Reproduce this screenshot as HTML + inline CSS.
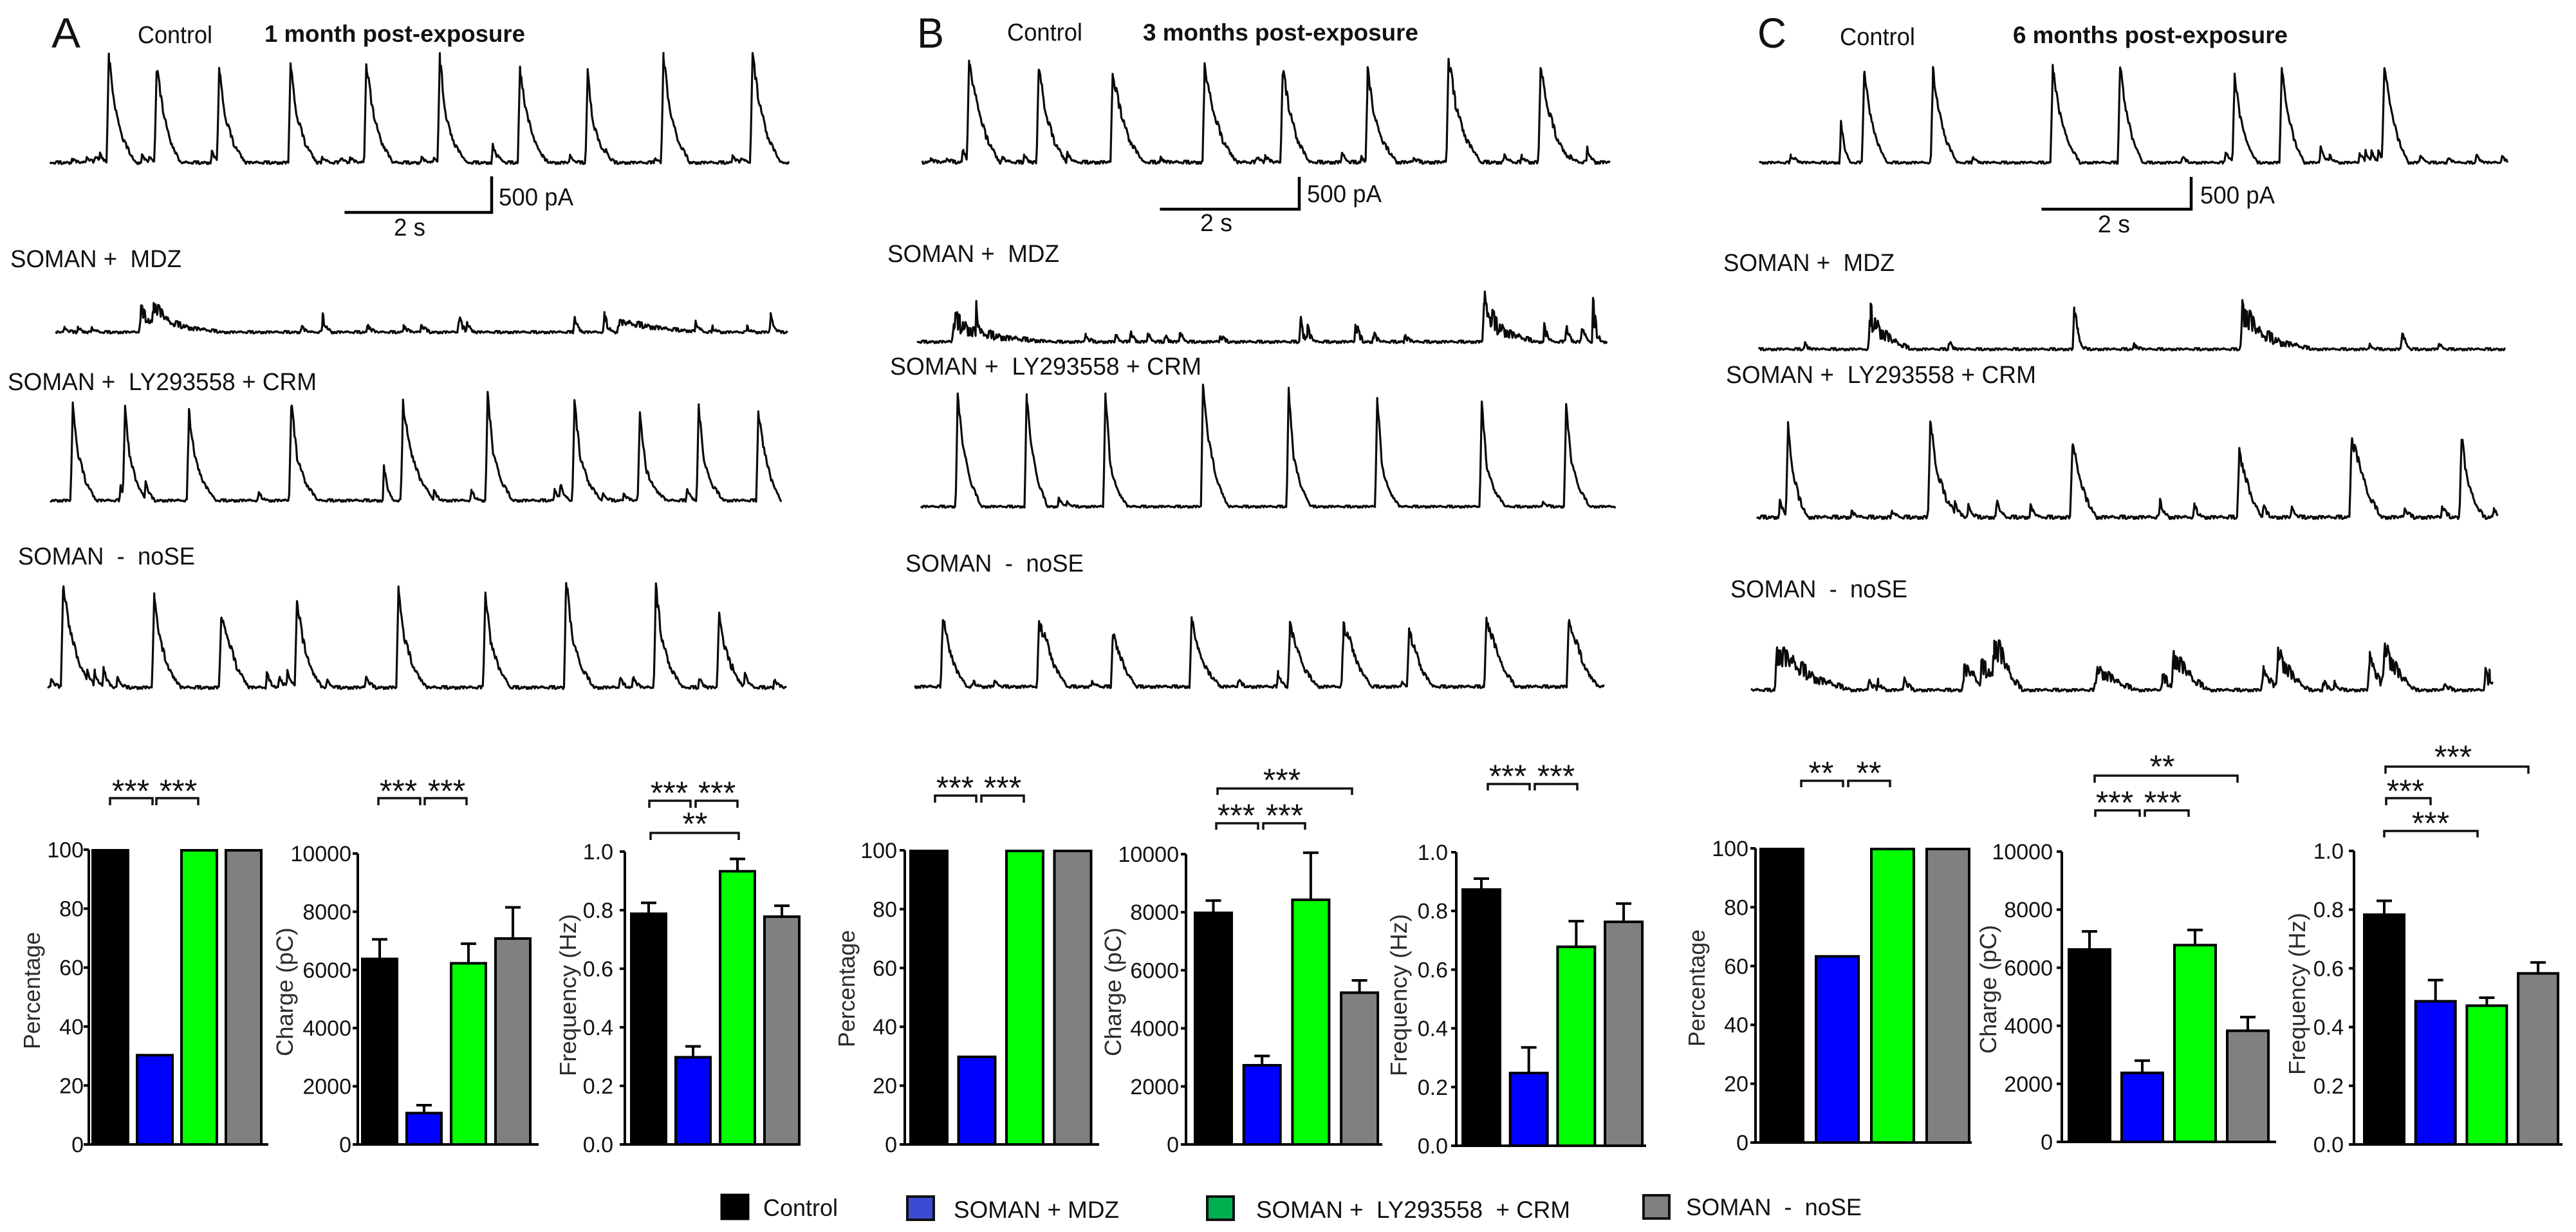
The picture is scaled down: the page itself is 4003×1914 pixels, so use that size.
<!DOCTYPE html>
<html lang="en">
<head>
<meta charset="utf-8">
<title>SOMAN electrophysiology figure</title>
<style>
html,body{margin:0;padding:0;background:#fff;width:4003px;height:1914px;overflow:hidden}
svg{display:block}
text{font-family:"Liberation Sans",Arial,sans-serif;fill:#111}
.lab{font-size:38px}
.ttl{font-size:37px;font-weight:bold}
.let{font-size:66px}
.leg{font-size:37px}
.axt{font-size:36px;fill:#2b2b2b}
</style>
</head>
<body>
<svg id="fig" xmlns="http://www.w3.org/2000/svg" width="4003" height="1914" viewBox="0 0 4003 1914">
<rect width="4003" height="1914" fill="#fff"/>

<g>
<text class="let" x="80" y="74" textLength="45" lengthAdjust="spacingAndGlyphs">A</text>
<text class="lab" x="214" y="67" textLength="116" lengthAdjust="spacingAndGlyphs">Control</text>
<text class="ttl" x="411" y="65" textLength="405" lengthAdjust="spacingAndGlyphs">1 month post-exposure</text>
<text class="lab" x="775" y="319" textLength="116" lengthAdjust="spacingAndGlyphs">500 pA</text>
<text class="lab" x="612" y="366" textLength="49" lengthAdjust="spacingAndGlyphs">2 s</text>
<text class="lab" x="16" y="415" textLength="266" lengthAdjust="spacingAndGlyphs" xml:space="preserve">SOMAN +  MDZ</text>
<text class="lab" x="12" y="606" textLength="480" lengthAdjust="spacingAndGlyphs" xml:space="preserve">SOMAN +  LY293558 + CRM</text>
<text class="lab" x="28" y="877" textLength="275" lengthAdjust="spacingAndGlyphs" xml:space="preserve">SOMAN  -  noSE</text>
</g>

<g>
<text class="let" x="1425" y="74" textLength="42" lengthAdjust="spacingAndGlyphs">B</text>
<text class="lab" x="1565" y="63" textLength="117" lengthAdjust="spacingAndGlyphs">Control</text>
<text class="ttl" x="1776" y="63" textLength="428" lengthAdjust="spacingAndGlyphs">3 months post-exposure</text>
<text class="lab" x="2031" y="314" textLength="116" lengthAdjust="spacingAndGlyphs">500 pA</text>
<text class="lab" x="1865" y="359" textLength="50" lengthAdjust="spacingAndGlyphs">2 s</text>
<text class="lab" x="1379" y="407" textLength="267" lengthAdjust="spacingAndGlyphs" xml:space="preserve">SOMAN +  MDZ</text>
<text class="lab" x="1383" y="582" textLength="484" lengthAdjust="spacingAndGlyphs" xml:space="preserve">SOMAN +  LY293558 + CRM</text>
<text class="lab" x="1407" y="888" textLength="277" lengthAdjust="spacingAndGlyphs" xml:space="preserve">SOMAN  -  noSE</text>
</g>

<g>
<text class="let" x="2731" y="74" textLength="45" lengthAdjust="spacingAndGlyphs">C</text>
<text class="lab" x="2859" y="70" textLength="117" lengthAdjust="spacingAndGlyphs">Control</text>
<text class="ttl" x="3128" y="67" textLength="427" lengthAdjust="spacingAndGlyphs">6 months post-exposure</text>
<text class="lab" x="3419" y="316" textLength="116" lengthAdjust="spacingAndGlyphs">500 pA</text>
<text class="lab" x="3260" y="361" textLength="50" lengthAdjust="spacingAndGlyphs">2 s</text>
<text class="lab" x="2678" y="421" textLength="266" lengthAdjust="spacingAndGlyphs" xml:space="preserve">SOMAN +  MDZ</text>
<text class="lab" x="2682" y="595" textLength="482" lengthAdjust="spacingAndGlyphs" xml:space="preserve">SOMAN +  LY293558 + CRM</text>
<text class="lab" x="2689" y="928" textLength="275" lengthAdjust="spacingAndGlyphs" xml:space="preserve">SOMAN  -  noSE</text>
</g>

<g>
<rect x="1121" y="1856" width="42" height="38" fill="#000" stroke="#000" stroke-width="3"/>
<text class="leg" x="1186" y="1889" textLength="116" lengthAdjust="spacingAndGlyphs">Control</text>
<rect x="1410" y="1859" width="41" height="36" fill="#3b4bd6" stroke="#111" stroke-width="4"/>
<text class="leg" x="1482" y="1892" textLength="257" lengthAdjust="spacingAndGlyphs">SOMAN + MDZ</text>
<rect x="1876" y="1859" width="41" height="36" fill="#00b050" stroke="#111" stroke-width="4"/>
<text class="leg" x="1952" y="1892" textLength="488" lengthAdjust="spacingAndGlyphs" xml:space="preserve">SOMAN +  LY293558  + CRM</text>
<rect x="2554" y="1857" width="40" height="36" fill="#808080" stroke="#111" stroke-width="4"/>
<text class="leg" x="2620" y="1888" textLength="273" lengthAdjust="spacingAndGlyphs" xml:space="preserve">SOMAN  -  noSE</text>
</g>
</svg>

<script>
// ---------- Bar chart data ----------
const barColors=['#000000','#0000ff','#00ff00','#808080'];
const pctTicks=[0,20,40,60,80,100];
const chargeTicks=[0,2000,4000,6000,8000,10000];
const freqTicks=['0.0','0.2','0.4','0.6','0.8','1.0'];

const A_pct=[100,30.5,100,100];
const A_charge=[6400,1100,6250,7100];
const A_chargeErr=[7050,1350,6900,8150];
const A_freq=[0.79,0.30,0.935,0.78];
const A_freqErr=[0.825,0.335,0.975,0.815];

const B_pct=[100,30,100,100];
const B_charge=[8000,2750,8450,5250];
const B_chargeErr=[8400,3050,10050,5650];
const B_freq=[0.875,0.25,0.68,0.765];
const B_freqErr=[0.91,0.335,0.765,0.825];

const C_pct=[100,63.5,100,100];
const C_charge=[6650,2400,6800,3850];
const C_chargeErr=[7250,2800,7300,4300];
const C_freq=[0.785,0.49,0.475,0.585];
const C_freqErr=[0.83,0.56,0.50,0.62];

// ---------- Current traces: event time (s), amplitude (pA), shoulder fraction, decay (s) ----------
const A_control_t=[0.80,1.45,2.30,3.27,4.30,5.30,6.39,7.31,8.34,9.55];
const A_control_a=[1473,1317,1285,1348,1379,1442,1317,1254,1505,1473];
const A_control_s=[0.52,0.62,0.5,0.5,0.55,0.45,0.55,0.45,0.5,0.6];
const A_control_d=[0.36,0.32,0.36,0.36,0.36,0.36,0.36,0.32,0.36,0.38];
const A_control_mt=[0.30,0.50,0.62,0.68,1.25,1.35,2.20,3.70,3.95,4.08,4.55,5.05,5.22,6.02,6.08,6.70,7.07,7.56,8.22,9.28,9.40];
const A_control_ma=[50,80,100,125,100,70,150,70,70,70,60,70,70,240,110,70,90,180,60,100,60];

const A_mdz_t=[1.16,1.33,7.66];
const A_mdz_a=[295,395,138];
const A_mdz_s=[0.5,0.35,0.75];
const A_mdz_d=[0.5,0.95,1.2];
const A_mdz_mt=[0.12,0.30,0.49,3.34,3.63,4.24,4.73,4.97,5.48,5.59,7.05,7.46,8.70,8.93,9.40,9.72];
const A_mdz_ma=[63,63,50,75,200,107,94,113,200,125,200,207,125,63,63,207];

const A_ly_t=[0.31,1.02,1.89,3.28,4.80,5.95,7.13,8.02,8.82,9.63];
const A_ly_a=[1304,1273,1210,1336,1336,1461,1336,1229,1285,1210];
const A_ly_s=[0.5,0.5,0.5,0.45,0.55,0.45,0.45,0.35,0.4,0.65];
const A_ly_d=[0.32,0.28,0.36,0.36,0.42,0.34,0.36,0.36,0.34,0.30];
const A_ly_mt=[0.96,1.30,2.84,4.54,5.22,5.73,6.86,6.94,7.52,7.80,8.66];
const A_ly_ma=[188,270,94,470,125,125,157,220,94,94,157];

const A_nose_t=[0.21,1.45,2.36,3.39,4.77,5.95,7.05,8.27,9.13];
const A_nose_a=[1404,1279,953,1223,1329,1298,1499,1361,1016];
const A_nose_s=[0.62,0.5,0.75,0.55,0.5,0.5,0.45,0.5,0.55];
const A_nose_d=[0.38,0.36,0.38,0.34,0.38,0.34,0.38,0.36,0.34];
const A_nose_mt=[0.05,0.54,0.64,0.76,0.95,2.98,3.15,3.26,3.80,4.33,7.78,7.96,8.86,9.31,9.48,9.88];
const A_nose_ma=[125,250,220,280,138,188,157,220,94,157,125,157,125,313,188,113];

const B_control_t=[0.67,1.67,2.73,4.05,5.17,6.39,7.55,8.87];
const B_control_a=[1519,1484,1379,1463,1428,1414,1624,1449];
const B_control_s=[0.65,0.55,0.62,0.6,0.62,0.5,0.55,0.6];
const B_control_d=[0.44,0.40,0.44,0.46,0.38,0.42,0.46,0.44];
const B_control_mt=[0.12,0.35,0.58,1.15,1.46,2.08,3.42,4.80,4.92,6.02,6.30,7.05,7.65,8.35,8.60,9.30,9.54];
const B_control_ma=[60,60,210,70,105,140,70,90,105,140,80,70,175,105,90,90,210];

const B_mdz_t=[0.53,8.14];
const B_mdz_a=[329,574];
const B_mdz_s=[0.45,0.45];
const B_mdz_d=[1.4,0.75];
const B_mdz_mt=[0.85,2.42,2.85,3.06,3.31,3.56,3.77,4.35,5.50,5.60,6.29,6.55,7.00,9.00,9.31,9.54,9.70];
const B_mdz_ma=[469,105,84,154,105,84,126,105,329,210,294,126,105,210,245,210,469];

const B_ly_t=[0.53,1.52,2.65,4.05,5.28,6.55,8.05,9.26];
const B_ly_a=[1708,1708,1764,1869,1820,1694,1582,1554];
const B_ly_s=[0.55,0.55,0.35,0.55,0.42,0.35,0.38,0.45];
const B_ly_d=[0.34,0.30,0.32,0.36,0.32,0.32,0.34,0.34];
const B_ly_mt=[1.98,2.10,8.93];
const B_ly_ma=[126,70,70];

const B_nose_t=[0.41,1.79,2.85,3.98,5.39,6.16,7.10,8.21,9.39];
const B_nose_a=[1106,931,826,1029,952,924,826,1050,980];
const B_nose_s=[0.6,0.85,0.7,0.55,0.65,0.8,0.75,0.7,0.75];
const B_nose_d=[0.34,0.40,0.34,0.42,0.40,0.40,0.34,0.42,0.42];
const B_nose_mt=[0.85,1.15,2.55,4.65,5.22,7.00];
const B_nose_ma=[70,84,70,105,210,70];

const C_control_t=[1.40,2.32,3.92,4.82,6.35,6.98,8.35];
const C_control_a=[1414,1414,1505,1505,1365,1435,1470];
const C_control_s=[0.6,0.6,0.55,0.6,0.55,0.6,0.65];
const C_control_d=[0.30,0.32,0.36,0.30,0.30,0.30,0.32];
const C_control_mt=[0.42,0.47,1.09,2.85,5.65,6.23,7.50,7.62,8.02,8.10,8.18,8.27,8.83,9.20,9.58,9.92];
const C_control_ma=[105,70,616,84,84,175,245,105,150,175,175,175,105,70,120,90];

const C_mdz_t=[1.50,6.47];
const C_mdz_a=[511,651];
const C_mdz_s=[0.6,0.4];
const C_mdz_d=[0.55,0.95];
const C_mdz_mt=[0.62,2.55,4.22,4.27,5.02,8.17,8.60,9.09];
const C_mdz_ma=[84,105,672,150,84,56,245,70];

const C_ly_t=[0.42,2.32,4.22,6.45,7.95,9.42];
const C_ly_a=[1379,1470,1141,1015,1225,1253];
const C_ly_s=[0.55,0.5,0.65,0.7,0.72,0.5];
const C_ly_d=[0.26,0.38,0.32,0.30,0.40,0.30];
const C_ly_mt=[0.31,1.27,1.81,2.65,2.83,3.21,3.66,5.39,5.85,6.77,7.15,8.66,9.16,9.85];
const C_ly_ma=[245,84,84,245,175,245,175,245,175,175,140,140,175,140];

const C_nose_t=[0.35,2.85,3.08,3.25,4.62,5.50,5.65,6.85,7.04,8.27,8.46];
const C_nose_a=[616,315,350,742,315,175,546,280,581,455,651];
const C_nose_s=[0.65,0.9,0.9,0.8,0.8,0.9,0.7,0.9,0.7,0.95,0.75];
const C_nose_d=[1.0,0.35,0.35,0.38,0.55,0.2,0.48,0.2,0.42,0.2,0.42];
const C_nose_mt=[1.58,1.70,2.05,7.65,7.80,9.27,9.81,9.87];
const C_nose_ma=[175,120,210,140,100,105,280,230];

// Recording noise read as a short repeating pattern (relative units)
const noisePattern=[.3,-.6,.9,-.2,-.9,.5,.1,-.4,.8,-1,.6,.2,-.7,.4,-.1,.9,-.8,.3,-.5,.7,0,-.3,1,-.6,.2,-.9,.5,.8,-.2,-.7,.4,-1,.6,-.1,.3,-.8,.9,-.4,.1,.7,-.5];

// ---------- Helpers ----------
const SVGNS='http://www.w3.org/2000/svg';
const fig=document.getElementById('fig');

function mk(tag,attrs,name,parent){
  const el=document.createElementNS(SVGNS,tag);
  for(const k in attrs){el.setAttribute(k,attrs[k]);}
  
  
  (parent||fig).appendChild(el);
  return el;
}

function interp(xs,ys,x){
  if(x<=xs[0]||x>=xs[xs.length-1])return 0;
  for(let i=1;i<xs.length;i++){
    if(x<=xs[i]){return ys[i-1]+(ys[i]-ys[i-1])*(x-xs[i-1])/(xs[i]-xs[i-1]);}
  }
  return 0;
}

function drawTrace(name,t,a,s,d,mt,ma,o){
  const X=v=>o.x0+v*o.pps;
  const Y=v=>o.y0-v*o.ppa;
  const shapes=[];
  t.forEach((tt,i)=>{
    const amp=a[i],sh=s[i]*amp,dd=d[i];
    shapes.push([[tt-0.03,tt,tt+0.22*dd,tt+0.55*dd,tt+dd],[0,amp,sh,0.4*sh,0]]);
  });
  mt.forEach((tt,i)=>{
    shapes.push([[tt-0.015,tt,tt+0.05,tt+0.12],[0,ma[i],0.35*ma[i],0]]);
  });
  const level=v=>{let m=0;for(const sp of shapes){const l=interp(sp[0],sp[1],v);if(l>m)m=l;}return m;};
  const samples=[];
  for(let v=0;v<=o.dur;v+=0.012){samples.push(v);}
  t.forEach(v=>samples.push(v));
  mt.forEach(v=>samples.push(v));
  samples.sort((p,q)=>p-q);
  let pts='';
  samples.forEach((v,i)=>{
    const l=level(v);
    const n=noisePattern[(i*7+o.seed)%noisePattern.length];
    const val=l+n*(o.noise*1.4+o.gain*1.3*l);
    pts+=X(v).toFixed(1)+','+Y(val).toFixed(1)+' ';
  });
  mk('polyline',{points:pts,fill:'none',stroke:'#0a0a0a','stroke-width':o.sw||3.2,'stroke-linejoin':'round'},name);
}

function drawScale(name,o){
  const len=2*o.pps, h=500*o.ppa;
  mk('path',{d:'M'+(o.xr-len)+' '+o.y+'H'+o.xr+'V'+(o.y-h),fill:'none',stroke:'#000','stroke-width':4.5},name);
}

function drawBarChart(name,values,errs,ticks,vmax,o){
  const g=mk('g',{},name);
  const Y=v=>o.y0+(o.yT-o.y0)*(v/vmax);
  const BX=i=>o.bx+i*o.step;
  values.forEach((v,i)=>{
    mk('rect',{x:BX(i)+2,y:Y(v)+1,width:o.w-4,height:o.y0-Y(v)-1,fill:barColors[i],stroke:'#000','stroke-width':4},name+'-bar-'+(i+1),g);
    if(errs){
      const cx=BX(i)+o.w/2;
      mk('path',{d:'M'+cx+' '+Y(v)+'V'+Y(errs[i])+'M'+(cx-12)+' '+Y(errs[i])+'H'+(cx+12),fill:'none',stroke:'#000','stroke-width':4},name+'-error-'+(i+1),g);
    }
  });
  mk('path',{d:'M'+o.ax+' '+Y(vmax)+'V'+o.y0+'M'+(o.ax-8)+' '+o.y0+'H'+o.xr,fill:'none',stroke:'#000','stroke-width':4},name+'-axes',g);
  ticks.forEach((tk,i)=>{
    const v=+tk;
    if(i>0){mk('line',{x1:o.ax-8,x2:o.ax,y1:Y(v),y2:Y(v),stroke:'#000','stroke-width':4},name+'-tick-'+tk,g);}
    const lb=mk('text',{x:o.lx,y:Y(v)+12,'text-anchor':'end','font-size':34},name+'-tick-label-'+tk,g);
    lb.textContent=tk;
  });
  const tl=mk('text',{x:o.tx,y:o.ty,'text-anchor':'middle',class:'axt',transform:'rotate(-90 '+o.tx+' '+o.ty+')',textLength:o.tlen,lengthAdjust:'spacingAndGlyphs'},name+'-y-axis-title',g);
  tl.textContent=o.title;
}

function bracket(name,x1,x2,y,drop,stars,sx,sy){
  mk('path',{d:'M'+x1+' '+(y+drop)+'V'+y+'H'+x2+'V'+(y+drop),fill:'none',stroke:'#111','stroke-width':3.5},name+'-bracket');
  const st=mk('text',{x:sx,y:sy+21,'text-anchor':'middle','font-size':50},name+'-stars');
  st.textContent=stars;
}

// ---------- Traces ----------
const pA={pps:114.3,ppa:0.112}, pB={pps:108.3,ppa:0.1003}, pC={pps:116.3,ppa:0.1003};

drawTrace('a-control-trace',A_control_t,A_control_a,A_control_s,A_control_d,A_control_mt,A_control_ma,{x0:77.7,y0:252.6,dur:10.05,noise:14,gain:.03,seed:0,...pA});
drawTrace('a-mdz-trace',A_mdz_t,A_mdz_a,A_mdz_s,A_mdz_d,A_mdz_mt,A_mdz_ma,{x0:86.6,y0:516,dur:9.95,noise:12,gain:.2,seed:5,...pA});
drawTrace('a-ly-trace',A_ly_t,A_ly_a,A_ly_s,A_ly_d,A_ly_mt,A_ly_ma,{x0:77.7,y0:777.5,dur:9.95,noise:13,gain:.03,seed:9,...pA});
drawTrace('a-nose-trace',A_nose_t,A_nose_a,A_nose_s,A_nose_d,A_nose_mt,A_nose_ma,{x0:74,y0:1068,dur:10.05,noise:15,gain:.04,seed:13,...pA});

drawTrace('b-control-trace',B_control_t,B_control_a,B_control_s,B_control_d,B_control_mt,B_control_ma,{x0:1433.3,y0:252,dur:9.87,noise:18,gain:.04,seed:2,...pB});
drawTrace('b-mdz-trace',B_mdz_t,B_mdz_a,B_mdz_s,B_mdz_d,B_mdz_mt,B_mdz_ma,{x0:1425,y0:531,dur:9.9,noise:14,gain:.35,seed:7,...pB});
drawTrace('b-ly-trace',B_ly_t,B_ly_a,B_ly_s,B_ly_d,B_ly_mt,B_ly_ma,{x0:1430.8,y0:787,dur:9.98,noise:12,gain:.02,seed:11,...pB});
drawTrace('b-nose-trace',B_nose_t,B_nose_a,B_nose_s,B_nose_d,B_nose_mt,B_nose_ma,{x0:1420.8,y0:1066.7,dur:9.9,noise:16,gain:.05,seed:17,...pB});

drawTrace('c-control-trace',C_control_t,C_control_a,C_control_s,C_control_d,C_control_mt,C_control_ma,{x0:2734,y0:252.6,dur:10,noise:13,gain:.03,seed:3,...pC});
drawTrace('c-mdz-trace',C_mdz_t,C_mdz_a,C_mdz_s,C_mdz_d,C_mdz_mt,C_mdz_ma,{x0:2732.4,y0:542.5,dur:9.99,noise:13,gain:.3,seed:8,...pC});
drawTrace('c-ly-trace',C_ly_t,C_ly_a,C_ly_s,C_ly_d,C_ly_mt,C_ly_ma,{x0:2729.7,y0:803.5,dur:9.9,noise:20,gain:.05,seed:14,...pC});
drawTrace('c-nose-trace',C_nose_t,C_nose_a,C_nose_s,C_nose_d,C_nose_mt,C_nose_ma,{x0:2720.8,y0:1072,dur:9.92,noise:16,gain:.25,seed:19,...pC});

drawScale('a-scale-bar',{xr:764,y:330,...pA});
drawScale('b-scale-bar',{xr:2019,y:325,...pB});
drawScale('c-scale-bar',{xr:3405,y:325,...pC});

// ---------- Bar charts ----------
drawBarChart('a-percentage-chart',A_pct,null,pctTicks,100,{y0:1778,yT:1320,bx:142,step:69,w:59,ax:138,xr:417,lx:130,tx:62,ty:1539,tlen:182,title:'Percentage'});
drawBarChart('a-charge-chart',A_charge,A_chargeErr,chargeTicks,10000,{y0:1778,yT:1326,bx:561,step:69,w:58,ax:556,xr:837,lx:546,tx:455,ty:1541,tlen:200,title:'Charge (pC)'});
drawBarChart('a-frequency-chart',A_freq,A_freqErr,freqTicks,1,{y0:1778,yT:1323,bx:979,step:69,w:58,ax:971,xr:1244,lx:953,tx:895,ty:1546,tlen:252,title:'Frequency (Hz)'});

drawBarChart('b-percentage-chart',B_pct,null,pctTicks,100,{y0:1778,yT:1321,bx:1413,step:74.5,w:61,ax:1406,xr:1708,lx:1394,tx:1328,ty:1536,tlen:182,title:'Percentage'});
drawBarChart('b-charge-chart',B_charge,B_chargeErr,chargeTicks,10000,{y0:1778,yT:1327,bx:1855,step:75.7,w:61,ax:1843,xr:2148,lx:1832,tx:1742,ty:1541,tlen:200,title:'Charge (pC)'});
drawBarChart('b-frequency-chart',B_freq,B_freqErr,freqTicks,1,{y0:1780,yT:1324,bx:2271,step:73.7,w:62,ax:2263,xr:2558,lx:2250,tx:2186,ty:1546,tlen:252,title:'Frequency (Hz)'});

drawBarChart('c-percentage-chart',C_pct,null,pctTicks,100,{y0:1775,yT:1318,bx:2734,step:86,w:70,ax:2728,xr:3064,lx:2717,tx:2649,ty:1535,tlen:182,title:'Percentage'});
drawBarChart('c-charge-chart',C_charge,C_chargeErr,chargeTicks,10000,{y0:1774,yT:1323,bx:3213,step:82,w:68,ax:3204,xr:3537,lx:3190,tx:3102,ty:1537,tlen:200,title:'Charge (pC)'});
drawBarChart('c-frequency-chart',C_freq,C_freqErr,freqTicks,1,{y0:1778,yT:1322,bx:3672,step:79.7,w:66,ax:3658,xr:3982,lx:3642,tx:3582,ty:1544,tlen:252,title:'Frequency (Hz)'});

// ---------- Significance brackets ----------
bracket('a-pct-sig-1',171,237,1240,11,'***',203,1225);
bracket('a-pct-sig-2',243,308,1240,11,'***',277,1225);
bracket('a-charge-sig-1',588,653,1240,11,'***',619,1225);
bracket('a-charge-sig-2',660,725,1240,11,'***',694,1225);
bracket('a-freq-sig-1',1009,1073,1244,11,'***',1040,1228);
bracket('a-freq-sig-2',1081,1146,1244,11,'***',1114,1228);
bracket('a-freq-sig-3',1011,1148,1294,11,'**',1080,1276);

bracket('b-pct-sig-1',1453,1517,1236,11,'***',1484,1220);
bracket('b-pct-sig-2',1525,1591,1236,11,'***',1558,1220);
bracket('b-charge-sig-1',1890,1955,1279,10,'***',1921,1263);
bracket('b-charge-sig-2',1963,2028,1279,10,'***',1996,1263);
bracket('b-charge-sig-3',1892,2101,1225,10,'***',1992,1208);
bracket('b-freq-sig-1',2312,2377,1218,10,'***',2343,1202);
bracket('b-freq-sig-2',2385,2451,1218,10,'***',2418,1202);

bracket('c-pct-sig-1',2799,2864,1213,10,'**',2830,1197);
bracket('c-pct-sig-2',2872,2937,1213,10,'**',2904,1197);
bracket('c-charge-sig-1',3256,3325,1259,10,'***',3286,1243);
bracket('c-charge-sig-2',3333,3401,1259,10,'***',3361,1243);
bracket('c-charge-sig-3',3255,3477,1205,11,'**',3360,1187);
bracket('c-freq-sig-1',3707,3929,1191,11,'***',3812,1172);
bracket('c-freq-sig-2',3708,3777,1240,11,'***',3738,1225);
bracket('c-freq-sig-3',3705,3850,1291,10,'***',3777,1275);
</script>
</body>
</html>
